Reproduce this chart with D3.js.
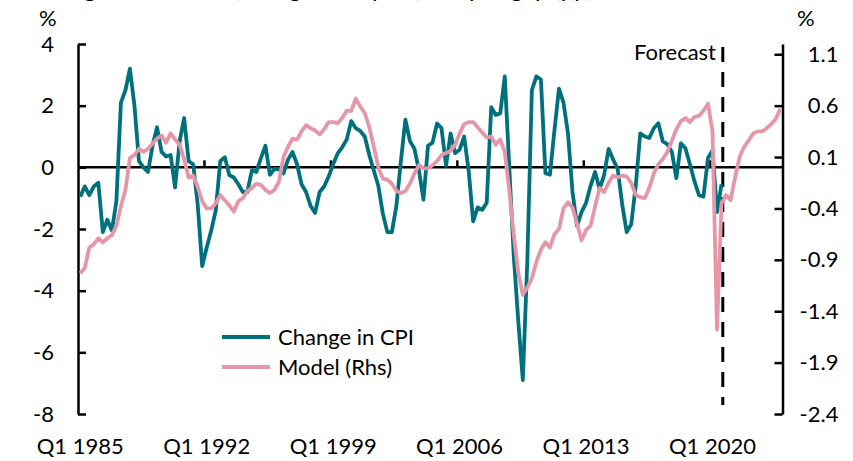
<!DOCTYPE html>
<html>
<head>
<meta charset="utf-8">
<script src="https://cdn.jsdelivr.net/npm/d3@7"></script>
<style>
  body { margin: 0; background: #fff; }
  text { font-family: Lato, "Open Sans", sans-serif; fill: #000; }
</style>
</head>
<body>
<div id="chart"></div>
<script>
// quarterly, Q1 1985 .. Q4 2023
var startYear = 1985;
var nQuarters = 156;
var quarters = [];
for (var q = 0; q < nQuarters; q++) {
  quarters.push('Q' + (q % 4 + 1) + ' ' + (startYear + Math.floor(q / 4)));
}

// Change in CPI (lhs, %) - actual data stops Q3 2020
var cpi = [-0.95, -0.62, -0.9, -0.62, -0.5, -2.1, -1.7, -2.05, -1.1, 2.1,
  2.5, 3.2, 2.0, 0.2, 0.0, -0.15, 0.7, 1.3, 0.5, 0.35,
  0.4, -0.65, 0.84, 1.6, 0.2, 0.1, -1.2, -3.2, -2.6, -2.05,
  -1.4, 0.2, 0.33, -0.25, -0.33, -0.55, -0.8, -0.8, -0.1, -0.15,
  0.3, 0.7, -0.24, -0.05, -0.06, -0.2, 0.25, 0.5, 0.1, -0.55,
  -0.8, -1.25, -1.48, -0.8, -0.62, -0.3, 0.1, 0.45, 0.65, 0.9,
  1.5, 1.27, 1.18, 1.0, 0.4, -0.1, -0.6, -1.5, -2.1, -2.1,
  -1.25, 0.2, 1.55, 0.85, 0.6, -0.1, -1.05, 0.7, 0.8, 1.42,
  1.27, 0.05, 1.1, 0.46, 0.57, 1.0, -0.1, -1.75, -1.3, -1.38,
  -1.15, 1.95, 1.7, 1.75, 2.95, 0.0, -2.9, -5.0, -6.9, -3.0,
  2.5, 2.95, 2.85, -0.19, -0.24, 1.2, 2.55, 2.1, 1.1, -0.8,
  -1.9, -1.45, -1.15, -0.6, -0.15, -0.7, -0.25, 0.6, 0.25, -0.05,
  -1.2, -2.1, -1.85, -0.6, 1.1, 1.0, 0.95, 1.27, 1.43, 0.84,
  0.75, 0.5, -0.35, 0.78, 0.62, 0.1, -0.45, -0.9, -0.95, 0.3,
  0.55, -1.45, -0.55];

// Model (rhs, %) incl. forecast
var model = [-1.03, -0.98, -0.78, -0.75, -0.69, -0.73, -0.69, -0.66, -0.57, -0.38,
  -0.22, 0.09, 0.12, 0.18, 0.15, 0.18, 0.23, 0.28, 0.31, 0.24,
  0.33, 0.27, 0.22, 0.08, -0.1, -0.08, -0.19, -0.33, -0.4, -0.4,
  -0.35, -0.27, -0.32, -0.37, -0.43, -0.33, -0.3, -0.23, -0.2, -0.16,
  -0.17, -0.22, -0.25, -0.22, -0.14, 0.1, 0.2, 0.28, 0.27, 0.35,
  0.41, 0.38, 0.36, 0.32, 0.37, 0.44, 0.44, 0.43, 0.48, 0.55,
  0.55, 0.67, 0.59, 0.53, 0.39, 0.2, 0.0, -0.11, -0.12, -0.16,
  -0.23, -0.25, -0.23, -0.16, -0.06, 0.02, -0.01, -0.01, 0.02, 0.06,
  0.12, 0.14, 0.16, 0.22, 0.33, 0.42, 0.44, 0.44, 0.39, 0.34,
  0.29, 0.3, 0.22, 0.27, 0.15, -0.22, -0.66, -1.03, -1.24, -1.17,
  -1.08, -0.92, -0.8, -0.73, -0.78, -0.65, -0.6, -0.4, -0.34, -0.39,
  -0.55, -0.71, -0.61, -0.57, -0.38, -0.2, -0.24, -0.15, -0.08, -0.1,
  -0.08, -0.09, -0.15, -0.27, -0.29, -0.3, -0.2, -0.06, 0.03, 0.08,
  0.15, 0.26, 0.37, 0.45, 0.48, 0.44, 0.49, 0.5, 0.55, 0.62,
  0.35, -1.58, -0.35, -0.27, -0.32, -0.1, 0.1, 0.2, 0.26, 0.33,
  0.35, 0.35, 0.38, 0.42, 0.47, 0.57];

var leftTicks = [-8, -6, -4, -2, 0, 2, 4];
var rightTicks = [-2.4, -1.9, -1.4, -0.9, -0.4, 0.1, 0.6, 1.1];
var xLabelIdx = [0, 28, 56, 84, 112, 140];   // every 7 years
var forecastStart = 143;                       // first forecast quarter (boundary)

var W = 853, H = 461;
var teal = '#00717c', pink = '#e597a8';

var svg = d3.select('#chart').append('svg')
  .attr('width', W)
  .attr('height', H);

var x = d3.scaleLinear().domain([0, nQuarters]).range([78, 782.5]);
var yL = d3.scaleLinear().domain([-8, 4]).range([414, 44]);
var yR = d3.scaleLinear().domain([-2.4, 1.2]).range([414, 44]);

// title - only its descenders are inside the picture
svg.append('text')
  .attr('x', 29).attr('y', -3)
  .style('font-size', '24px')
  .text('Change in inflation (change on a year), output gap (pp)');

// axes
var gl = svg.append('g').attr('transform', 'translate(78,0)')
  .call(d3.axisLeft(yL).tickValues(leftTicks).tickSize(-8).tickSizeOuter(0)
    .tickPadding(24).tickFormat(function(d){ return String(d); }));
var gr = svg.append('g').attr('transform', 'translate(782.5,0)')
  .call(d3.axisRight(yR).tickValues(rightTicks).tickSize(-8).tickSizeOuter(0)
    .tickFormat(function(d){ return d.toFixed(1); }));
gr.selectAll('.tick text').attr('text-anchor', 'end').attr('x', 56);

[gl, gr].forEach(function(g){
  g.select('.domain').attr('stroke', '#000').attr('stroke-width', 2.5);
  g.selectAll('.tick line').attr('stroke', '#000').attr('stroke-width', 2.5);
  g.selectAll('.tick text').style('font-size', '22px').style('font-family', 'Lato').attr('fill', '#000');
});

svg.append('text').attr('x', 39).attr('y', 26).style('font-size', '22px').text('%');
svg.append('text').attr('x', 797).attr('y', 26).style('font-size', '22px').text('%');

// zero line with category ticks
svg.append('line')
  .attr('x1', x(0)).attr('x2', x(nQuarters))
  .attr('y1', yL(0)).attr('y2', yL(0))
  .attr('stroke', '#000').attr('stroke-width', 2.5);
xLabelIdx.slice(1).forEach(function(i){
  svg.append('line')
    .attr('x1', x(i)).attr('x2', x(i))
    .attr('y1', yL(0)).attr('y2', yL(0) - 7)
    .attr('stroke', '#000').attr('stroke-width', 2.5);
});

svg.selectAll('.xlab').data(xLabelIdx).enter().append('text')
  .attr('class', 'xlab')
  .attr('x', function(i){ return x(i + 0.5); })
  .attr('y', 454)
  .attr('text-anchor', 'middle')
  .style('font-size', '22px')
  .text(function(i){ return quarters[i]; });

// forecast marker
svg.append('line')
  .attr('x1', x(forecastStart) - 1).attr('x2', x(forecastStart) - 1)
  .attr('y1', 47).attr('y2', 405)
  .attr('stroke', '#000').attr('stroke-width', 3)
  .attr('stroke-dasharray', '15,10');
svg.append('text')
  .attr('x', 716).attr('y', 60)
  .attr('text-anchor', 'end')
  .style('font-size', '22px')
  .text('Forecast');

// series
var lineL = d3.line()
  .defined(function(d){ return d != null; })
  .x(function(d, i){ return x(i + 0.5); })
  .y(function(d){ return yL(d); });
var lineR = d3.line()
  .x(function(d, i){ return x(i + 0.5); })
  .y(function(d){ return yR(d); });

svg.append('path').datum(cpi)
  .attr('d', lineL)
  .attr('fill', 'none').attr('stroke', teal)
  .attr('stroke-width', 3.8).attr('stroke-linejoin', 'round');
svg.append('path').datum(model)
  .attr('d', lineR)
  .attr('fill', 'none').attr('stroke', pink)
  .attr('stroke-width', 3.8).attr('stroke-linejoin', 'round');

// legend
var legend = [
  {name: 'Change in CPI', color: teal, y: 337},
  {name: 'Model (Rhs)', color: pink, y: 367}
];
legend.forEach(function(d){
  svg.append('line')
    .attr('x1', 222).attr('x2', 270)
    .attr('y1', d.y).attr('y2', d.y)
    .attr('stroke', d.color).attr('stroke-width', 4);
  svg.append('text')
    .attr('x', 278).attr('y', d.y + 8)
    .style('font-size', '22px')
    .text(d.name);
});
</script>
</body>
</html>
